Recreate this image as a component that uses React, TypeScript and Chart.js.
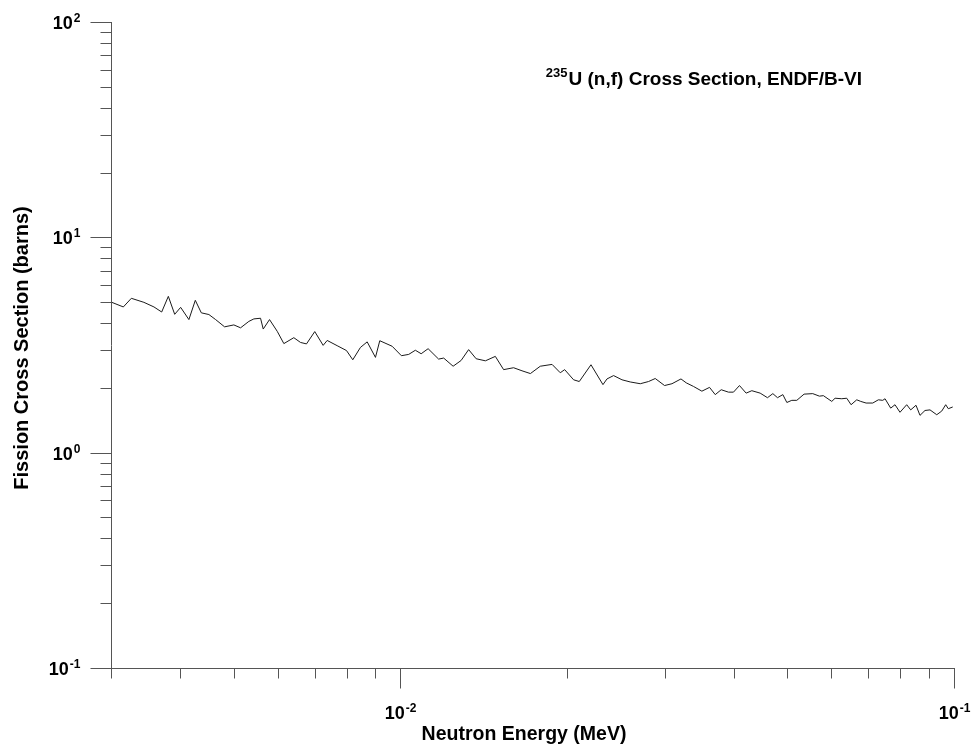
import React, { useEffect, useRef } from "react";
import { Chart, registerables } from "chart.js";

Chart.register(...registerables);

// Neutron energy (MeV)
const energies = [
  0.00301, 0.003158, 0.003265, 0.00344, 0.003587, 0.003704, 0.003808, 0.00391, 0.004008, 0.004148,
  0.00426, 0.004368, 0.004508, 0.004636, 0.004812, 0.005001, 0.005143, 0.005323, 0.005435, 0.005588,
  0.005651, 0.005801, 0.00599, 0.006157, 0.006418, 0.006599, 0.006765, 0.007002, 0.007251, 0.007373,
  0.007685, 0.00799, 0.008202, 0.008466, 0.008708, 0.009013, 0.009176, 0.009661, 0.01004, 0.01035,
  0.01064, 0.0109, 0.01122, 0.01172, 0.01197, 0.01245, 0.01287, 0.01328, 0.0137, 0.01424,
  0.01484, 0.01536, 0.01601, 0.01658, 0.01717, 0.01789, 0.01879, 0.01944, 0.0198, 0.02055,
  0.02104, 0.02209, 0.02322, 0.02361, 0.02427, 0.02513, 0.02601, 0.02712, 0.02807, 0.02886,
  0.03, 0.03094, 0.03212, 0.03283, 0.03384, 0.03504, 0.03617, 0.03704, 0.03797, 0.03914,
  0.03996, 0.04097, 0.04212, 0.04313, 0.04465, 0.04603, 0.04707, 0.04799, 0.04907, 0.04989,
  0.05093, 0.052, 0.0536, 0.05557, 0.05713, 0.05808, 0.06014, 0.06098, 0.0627, 0.06401,
  0.06517, 0.06673, 0.06785, 0.06937, 0.07132, 0.07301, 0.07435, 0.07506, 0.07685, 0.07824,
  0.07988, 0.08214, 0.08352, 0.08538, 0.08681, 0.08864, 0.0905, 0.09307, 0.09502, 0.09661,
  0.09766, 0.09947,
];

// Fission cross section (barns)
const crossSection = [
  4.99, 4.75, 5.21, 4.99, 4.75, 4.5, 5.32, 4.39, 4.73, 4.15,
  5.1, 4.46, 4.38, 4.15, 3.84, 3.92, 3.8, 4.07, 4.18, 4.21,
  3.75, 4.15, 3.66, 3.21, 3.42, 3.25, 3.2, 3.65, 3.15, 3.32,
  3.14, 2.98, 2.7, 3.08, 3.27, 2.77, 3.31, 3.12, 2.82, 2.86,
  2.99, 2.88, 3.04, 2.72, 2.75, 2.52, 2.68, 3.01, 2.73, 2.67,
  2.8, 2.43, 2.48, 2.4, 2.33, 2.52, 2.57, 2.35, 2.43, 2.18,
  2.14, 2.56, 2.07, 2.2, 2.28, 2.18, 2.13, 2.09, 2.14, 2.21,
  2.05, 2.09, 2.2, 2.11, 2.03, 1.93, 2.01, 1.86, 1.96, 1.91,
  1.91, 2.05, 1.89, 1.94, 1.89, 1.8, 1.88, 1.8, 1.86, 1.71,
  1.75, 1.75, 1.87, 1.88, 1.83, 1.84, 1.73, 1.79, 1.78, 1.79,
  1.67, 1.76, 1.73, 1.7, 1.7, 1.76, 1.75, 1.78, 1.61, 1.67,
  1.54, 1.67, 1.58, 1.66, 1.49, 1.57, 1.58, 1.5, 1.56, 1.67,
  1.6, 1.63,
];

const xMajorTicks = [0.01, 0.1];
const xMajorLabels = [
  { base: "10", exp: "-2" },
  { base: "10", exp: "-1" },
];
const xMinorTicks = [0.003, 0.004, 0.005, 0.006, 0.007, 0.008, 0.009, 0.02, 0.03, 0.04, 0.05, 0.06, 0.07, 0.08, 0.09];

const yMajorTicks = [0.1, 1, 10, 100];
const yMajorLabels = [
  { base: "10", exp: "-1" },
  { base: "10", exp: "0" },
  { base: "10", exp: "1" },
  { base: "10", exp: "2" },
];
const yMinorTicks = [0.2, 0.3, 0.4, 0.5, 0.6, 0.7, 0.8, 0.9, 2, 3, 4, 5, 6, 7, 8, 9, 20, 30, 40, 50, 60, 70, 80, 90];

const titleSup = "235";
const titleMain = "U (n,f) Cross Section, ENDF/B-VI";
const xTitle = "Neutron Energy (MeV)";
const yTitle = "Fission Cross Section (barns)";

const FONT = '"Liberation Sans", Arial, sans-serif';
const AXIS_COLOR = "#555555";

function drawPow(ctx: CanvasRenderingContext2D, cx: number, cy: number, base: string, exp: string, align: "center" | "right") {
  ctx.save();
  ctx.textBaseline = "alphabetic";
  ctx.textAlign = "left";
  const baseFont = `bold 18px ${FONT}`;
  const expFont = `bold 12px ${FONT}`;
  ctx.font = baseFont;
  const bw = ctx.measureText(base).width;
  ctx.font = expFont;
  const ew = ctx.measureText(exp).width;
  const total = bw + ew + 1;
  const left = align === "center" ? cx - total / 2 : cx - total;
  const baseline = cy + 6.5;
  ctx.fillStyle = "#000";
  ctx.font = baseFont;
  ctx.fillText(base, left, baseline);
  ctx.font = expFont;
  ctx.fillText(exp, left + bw + 1, baseline - 7.5);
  ctx.restore();
}

const decorPlugin = {
  id: "decor",
  afterDraw(chart: any) {
    const ctx: CanvasRenderingContext2D = chart.ctx;
    const xs = chart.scales.x;
    const ys = chart.scales.y;
    const area = chart.chartArea;
    ctx.save();
    ctx.strokeStyle = AXIS_COLOR;
    ctx.lineWidth = 1;
    // x ticks
    const xb = Math.round(area.bottom) + 0.5;
    xMinorTicks.forEach((v) => {
      const px = Math.round(xs.getPixelForValue(v)) + 0.5;
      ctx.beginPath();
      ctx.moveTo(px, xb);
      ctx.lineTo(px, xb + 10);
      ctx.stroke();
    });
    xMajorTicks.forEach((v, i) => {
      const px = Math.round(xs.getPixelForValue(v)) + 0.5;
      ctx.beginPath();
      ctx.moveTo(px, xb);
      ctx.lineTo(px, xb + 20);
      ctx.stroke();
      drawPow(ctx, px, xb + 44, xMajorLabels[i].base, xMajorLabels[i].exp, "center");
    });
    // y ticks
    const yl = Math.round(area.left) + 0.5;
    yMinorTicks.forEach((v) => {
      const py = Math.round(ys.getPixelForValue(v)) + 0.5;
      ctx.beginPath();
      ctx.moveTo(yl, py);
      ctx.lineTo(yl - 11, py);
      ctx.stroke();
    });
    yMajorTicks.forEach((v, i) => {
      const py = Math.round(ys.getPixelForValue(v)) + 0.5;
      ctx.beginPath();
      ctx.moveTo(yl, py);
      ctx.lineTo(yl - 21, py);
      ctx.stroke();
      drawPow(ctx, yl - 31, py, yMajorLabels[i].base, yMajorLabels[i].exp, "right");
    });
    ctx.restore();

    // titles
    ctx.save();
    ctx.fillStyle = "#000";
    ctx.textBaseline = "alphabetic";
    ctx.textAlign = "left";
    ctx.font = `bold 19px ${FONT}`;
    const mw = ctx.measureText(titleMain).width;
    ctx.font = `bold 13px ${FONT}`;
    const sw = ctx.measureText(titleSup).width;
    const titleRight = 862;
    const mainLeft = titleRight - mw;
    ctx.fillText(titleSup, mainLeft - sw - 1, 77);
    ctx.font = `bold 19px ${FONT}`;
    ctx.fillText(titleMain, mainLeft, 85);

    ctx.font = `bold 19.5px ${FONT}`;
    ctx.textAlign = "center";
    ctx.fillText(xTitle, 524, 740);

    ctx.font = `bold 20px ${FONT}`;
    ctx.translate(28, 348);
    ctx.rotate(-Math.PI / 2);
    ctx.fillText(yTitle, 0, 0);
    ctx.restore();
  },
};

export default function App() {
  const ref = useRef<HTMLCanvasElement | null>(null);
  useEffect(() => {
    if (!ref.current) return;
    const chart = new Chart(ref.current, {
      type: "line",
      data: {
        datasets: [
          {
            data: energies.map((e, i) => ({ x: e, y: crossSection[i] })),
            borderColor: "#1a1a1a",
            borderWidth: 1,
            pointRadius: 0,
            tension: 0,
            fill: false,
          },
        ],
      },
      options: {
        animation: false,
        responsive: false,
        devicePixelRatio: 1,
        layout: { padding: { left: 111, top: 22, right: 22, bottom: 82 } },
        plugins: { legend: { display: false }, tooltip: { enabled: false } },
        scales: {
          x: {
            type: "logarithmic",
            min: 0.003,
            max: 0.1,
            grid: { display: false, drawTicks: false, tickLength: 0 },
            border: { display: true, color: AXIS_COLOR, width: 1 },
            ticks: { display: false },
          },
          y: {
            type: "logarithmic",
            min: 0.1,
            max: 100,
            grid: { display: false, drawTicks: false, tickLength: 0 },
            border: { display: true, color: AXIS_COLOR, width: 1 },
            ticks: { display: false },
          },
        },
      },
      plugins: [decorPlugin],
    });
    return () => chart.destroy();
  }, []);
  return (
    <div style={{ position: "absolute", left: 0, top: 0, width: 976, height: 750, background: "#fff" }}>
      <canvas ref={ref} width={976} height={750} />
    </div>
  );
}
